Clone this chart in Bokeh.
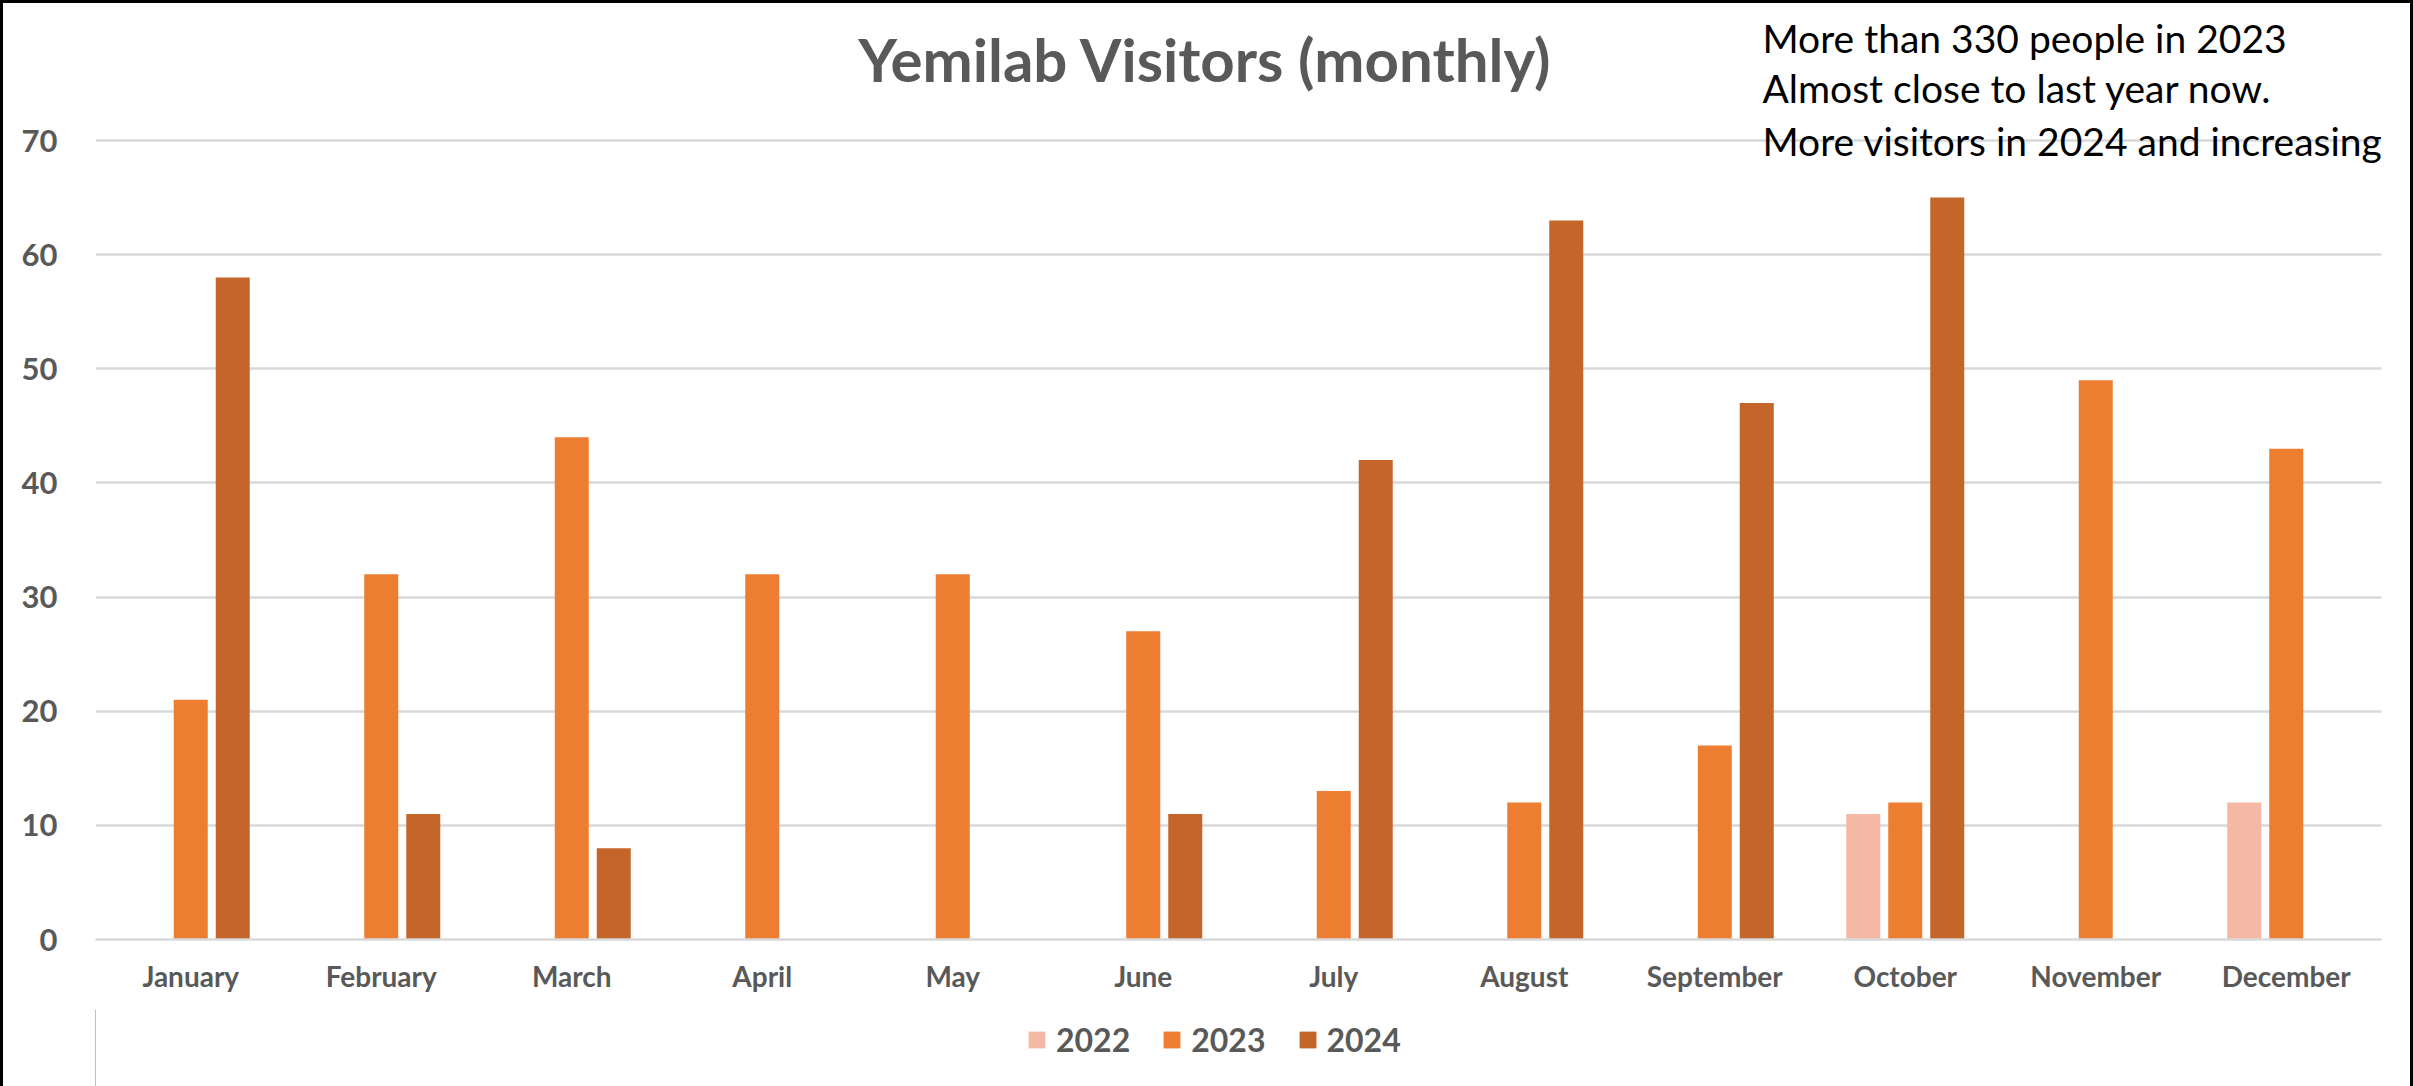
import numpy as np
from bokeh.plotting import figure
from bokeh.layouts import column
from bokeh.models import (FactorRange, Range1d, ColumnDataSource, Label, Legend,
                          LegendItem, FixedTicker)
from bokeh.transform import dodge
from bokeh.embed import file_html
from bokeh.resources import INLINE

# ---- data ----
months = ["January", "February", "March", "April", "May", "June", "July",
          "August", "September", "October", "November", "December"]
visitors_2022 = [None, None, None, None, None, None, None, None, None, 11, None, 12]
visitors_2023 = [21, 32, 44, 32, 32, 27, 13, 12, 17, 12, 49, 43]
visitors_2024 = [58, 11, 8, None, None, 11, 42, 63, 47, 65, None, None]
years = ["2022", "2023", "2024"]
colors = ["#F4B8A4", "#ED7D31", "#C4662A"]
y_ticks = [0, 10, 20, 30, 40, 50, 60, 70]
title_text = "Yemilab Visitors (monthly)"
note_lines = ["More than 330 people in 2023",
              "Almost close to last year now.",
              "More visitors in 2024 and increasing"]

def arr(v):
    return [np.nan if x is None else x for x in v]

src = ColumnDataSource(dict(month=months, y2022=arr(visitors_2022),
                            y2023=arr(visitors_2023), y2024=arr(visitors_2024)))

FONT = "Lato"
GRAY = "#595959"
W = 2413
ML, MR, MB = 95, 32, 70
FW, FH = W - ML - MR, 939
PX_PER_UNIT = 799 / 70
LEG_H = 1086 - FH - MB

p = figure(frame_width=FW, frame_height=FH,
           x_range=FactorRange(*months, range_padding=0),
           y_range=Range1d(0, FH / PX_PER_UNIT), output_backend="svg",
           toolbar_location=None, min_border_left=ML, min_border_right=MR,
           min_border_top=0, min_border_bottom=MB)
p.outline_line_color = None
p.background_fill_color = None
p.border_fill_color = None

bw = 34 / 190.5
off = 42 / 190.5
for i, (yr, col) in enumerate(zip(years, colors)):
    p.vbar(x=dodge("month", (i - 1) * off, range=p.x_range), top="y" + yr,
           width=bw, source=src, fill_color=col, line_color=None)

# axes
p.yaxis.ticker = FixedTicker(ticks=y_ticks)
for ax in (p.xaxis[0], p.yaxis[0]):
    ax.major_label_text_font = FONT
    ax.major_label_text_font_style = "bold"
    ax.major_label_text_color = GRAY
    ax.major_tick_line_color = None
    ax.minor_tick_line_color = None
p.yaxis.axis_line_color = None
p.yaxis.major_label_text_font_size = "31px"
p.yaxis.major_label_standoff = 32
p.xaxis.axis_line_color = "#D9D9D9"
p.xaxis.axis_line_width = 2.5
p.xaxis.major_label_text_font_size = "28px"
p.xaxis.major_label_standoff = 13
p.xgrid.grid_line_color = None
p.ygrid.grid_line_color = "#D9D9D9"
p.ygrid.grid_line_width = 2.5
p.ygrid.ticker = FixedTicker(ticks=y_ticks)

# title
p.add_layout(Label(x=1110, y=FH - 58, x_units="screen", y_units="screen",
                   text=title_text, text_font=FONT, text_font_style="bold",
                   text_font_size="60px", text_color=GRAY, text_align="center",
                   text_baseline="alphabetic"))
# note
note_y = [37.0, 87.5, 140.0]
for line, yy in zip(note_lines, note_y):
    p.add_layout(Label(x=1667, y=FH - yy, x_units="screen", y_units="screen",
                       text=line, text_font=FONT, text_font_size="39px",
                       text_color="black", text_align="left",
                       text_baseline="alphabetic"))

# legend strip below the chart (proxy glyphs sit outside the visible range)
q = figure(width=W, height=LEG_H, x_range=Range1d(0, 1), y_range=Range1d(0, 1),
           x_axis_type=None, y_axis_type=None, output_backend="svg",
           toolbar_location=None, min_border=0)
q.outline_line_color = None
q.background_fill_color = None
q.border_fill_color = None
q.xgrid.grid_line_color = None
q.ygrid.grid_line_color = None
proxies = [q.vbar(x=[-10], top=[1], width=0.1, fill_color=col, line_color=None)
           for col in colors]
legend = Legend(items=[LegendItem(label=yr, renderers=[r]) for yr, r in zip(years, proxies)],
                orientation="horizontal", location=(931, 27))
legend.label_text_font = FONT
legend.label_text_font_style = "bold"
legend.label_text_font_size = "32px"
legend.label_text_color = GRAY
legend.glyph_width = 21
legend.glyph_height = 21
legend.label_standoff = 9
legend.spacing = 31
legend.padding = 0
legend.margin = 0
legend.border_line_color = None
legend.background_fill_alpha = 0
q.add_layout(legend, "center")

layout = column(p, q, spacing=0,
                styles={"box-shadow": "inset 3px 3px 0 0 black, inset -3px 0 0 0 black"})

open("out.html", "w").write(file_html(layout, INLINE))
